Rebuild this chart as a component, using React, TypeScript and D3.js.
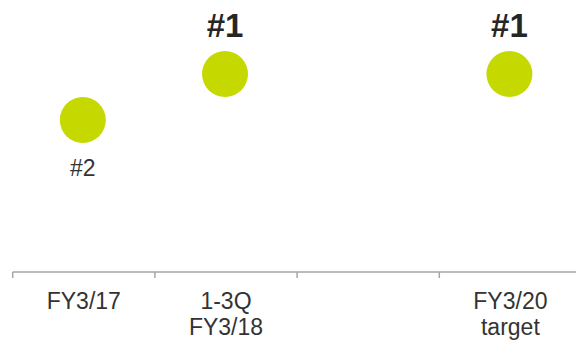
import React from "react";
import * as d3 from "d3";

// Market ranking by fiscal period (lower is better); null = no point drawn
const categories = ["FY3/17", "1-3Q FY3/18", "FY3/19", "FY3/20 target"];
const categoryLabels = [["FY3/17"], ["1-3Q", "FY3/18"], [], ["FY3/20", "target"]];
const ranks: (number | null)[] = [2, 1, null, 1];
const rankLabels = ["#2", "#1", "", "#1"];

const W = 576;
const H = 340;
const FONT = "'Liberation Sans', Arial, Helvetica, sans-serif";
const GREEN = "#c5d800";

export default function App() {
  const x = d3.scaleBand<string>().domain(categories).range([12.7, 581.5]).padding(0);
  const y = d3.scaleLinear().domain([1, 2]).range([74, 120]);
  const axisY = 272;
  const bw = x.bandwidth();
  const tickXs = [...categories.map((c) => x(c) as number), (x(categories[categories.length - 1]) as number) + bw];

  return (
    <svg
      width={W}
      height={H}
      style={{ position: "fixed", left: 0, top: 0, background: "#fff" }}
      fontFamily={FONT}
    >
      {/* category axis */}
      <line x1={x.range()[0]} x2={x.range()[1]} y1={axisY} y2={axisY} stroke="#a6a6a6" strokeWidth={1.5} />
      {tickXs.map((tx, i) => (
        <line key={i} x1={tx} x2={tx} y1={axisY} y2={axisY + 6} stroke="#a6a6a6" strokeWidth={1.5} />
      ))}
      {categories.map((c, i) => {
        const cx = (x(c) as number) + bw / 2;
        return (
          <text key={c} x={cx} textAnchor="middle" fontSize={23} fill="#333">
            {categoryLabels[i].map((line, j) => (
              <tspan key={j} x={cx} y={309 + j * 26}>
                {line}
              </tspan>
            ))}
          </text>
        );
      })}

      {/* rank markers */}
      {categories.map((c, i) => {
        const r = ranks[i];
        if (r == null) return null;
        const cx = (x(c) as number) + bw / 2 - 1;
        const cy = y(r);
        const top = r === 1;
        return (
          <g key={c}>
            <circle cx={cx} cy={cy} r={23} fill={GREEN} />
            <text
              x={cx}
              y={top ? cy - 37 : cy + 56}
              textAnchor="middle"
              fontSize={top ? 33 : 23}
              fontWeight={top ? "bold" : "normal"}
              fill={top ? "#262626" : "#333"}
            >
              {rankLabels[i]}
            </text>
          </g>
        );
      })}
    </svg>
  );
}
